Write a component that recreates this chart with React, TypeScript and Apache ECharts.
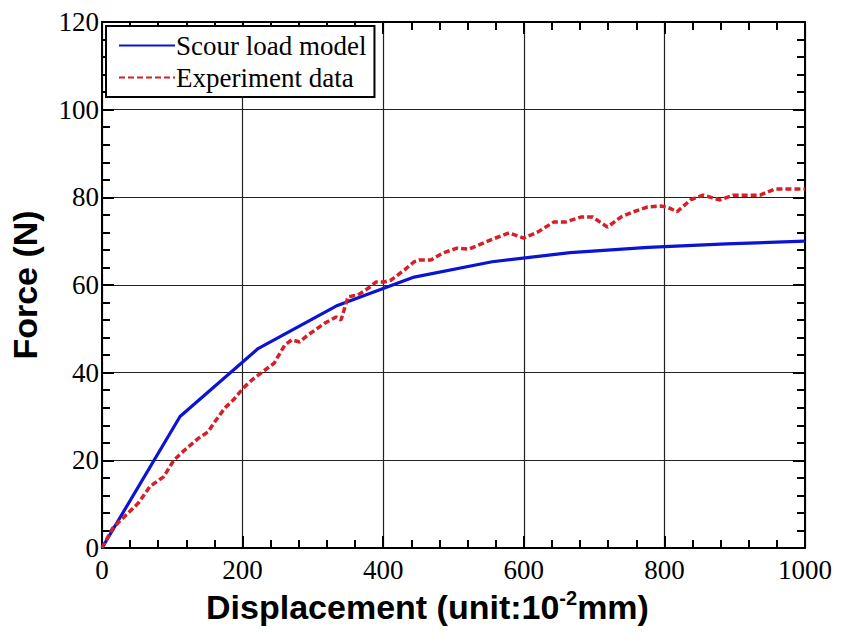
import React, { useEffect, useRef } from "react";
import * as echarts from "echarts";

const modelX = [0, 111, 222, 333, 444, 555, 666, 777, 888, 1000];
const modelY = [0, 30, 45.5, 55.2, 61.8, 65.3, 67.4, 68.6, 69.4, 70];

const expX = [0, 15, 31, 52, 68, 88, 102, 118, 137, 151, 160, 175, 187, 201, 213, 227, 245, 260, 270, 281, 293, 317, 333, 340, 350, 364, 379, 390, 401, 411, 430, 444, 451, 468, 485, 505, 522, 553, 579, 600, 620, 643, 660, 681, 698, 719, 738, 756, 776, 794, 804, 818, 837, 855, 879, 898, 936, 957, 1000];
const expY = [0, 4.5, 7, 10.3, 14, 16.3, 20, 22.4, 25, 26.5, 28.7, 32, 33.8, 36.5, 38.3, 40, 42.2, 46.3, 47.5, 47, 48.6, 51.3, 52.7, 52, 57.3, 57.7, 59.3, 60.7, 60.7, 61.1, 63.4, 65.3, 65.7, 65.7, 67.3, 68.4, 68.2, 70.3, 71.9, 70.7, 72.1, 74.4, 74.4, 75.5, 75.5, 73.2, 75.5, 76.7, 77.8, 78, 77.8, 76.7, 79.4, 80.5, 79.4, 80.5, 80.5, 81.9, 81.9];

const seriesNames = ["Scour load model", "Experiment data"];
const xTicks = [0, 200, 400, 600, 800, 1000];
const yTicks = [0, 20, 40, 60, 80, 100, 120];

const serif = "Liberation Serif";
const sans = "Liberation Sans";

export default function App() {
  const ref = useRef<HTMLDivElement>(null);
  useEffect(() => {
    const chart = echarts.init(ref.current!, null, { renderer: "svg" });
    const axisLineStyle = { color: "#000", width: 2 };
    const labelStyle = { fontFamily: serif, fontSize: 27, color: "#000", formatter: (v: number) => String(v) };
    const tick = { show: true, inside: true, length: 12, lineStyle: { color: "#000", width: 2 } };
    const minor = { show: true, splitNumber: 5, length: 8, lineStyle: { color: "#000", width: 2 } };
    chart.setOption({
      animation: false,
      backgroundColor: "#fff",
      grid: { left: 100, right: 36, top: 22, bottom: 92, containLabel: false },
      legend: {
        left: 106,
        top: 26,
        orient: "vertical",
        data: seriesNames,
        backgroundColor: "#fff",
        borderColor: "#000",
        borderWidth: 2,
        borderRadius: 0,
        padding: [6, 8, 6, 12],
        itemWidth: 56,
        itemHeight: 1,
        itemGap: 5,
        itemStyle: { borderWidth: 0, opacity: 0 },
        textStyle: { fontFamily: serif, fontSize: 27, color: "#000", padding: [0, 0, 0, -4] },
      },
      xAxis: [
        {
          type: "value",
          min: xTicks[0],
          max: xTicks[xTicks.length - 1],
          interval: 200,
          name: "{a|Displacement (unit:10}{s|-2}{a|mm)}",
          nameLocation: "middle",
          nameGap: 40,
          nameTextStyle: {
            padding: [0, 52, 0, 0],
            rich: {
              a: { fontFamily: sans, fontWeight: "bold", fontSize: 34, color: "#000" },
              s: { fontFamily: sans, fontWeight: "bold", fontSize: 20, color: "#000", padding: [0, 0, 18, 0] },
            },
          },
          axisLine: { show: true, onZero: false, lineStyle: axisLineStyle },
          axisTick: tick,
          minorTick: minor,
          splitLine: { show: true, lineStyle: { color: "#222", width: 1.2 } },
          axisLabel: { ...labelStyle, margin: 8 },
        },
        {
          type: "value",
          position: "top",
          min: xTicks[0],
          max: xTicks[xTicks.length - 1],
          interval: 200,
          axisLine: { show: true, onZero: false, lineStyle: axisLineStyle },
          axisTick: tick,
          minorTick: minor,
          splitLine: { show: false },
          axisLabel: { show: false },
        },
      ],
      yAxis: [
        {
          type: "value",
          min: yTicks[0],
          max: yTicks[yTicks.length - 1],
          interval: 20,
          name: "Force (N)",
          nameLocation: "middle",
          nameGap: 60,
          nameTextStyle: { fontFamily: sans, fontWeight: "bold", fontSize: 34, color: "#000" },
          axisLine: { show: true, onZero: false, lineStyle: axisLineStyle },
          axisTick: tick,
          minorTick: minor,
          splitLine: { show: true, lineStyle: { color: "#222", width: 1.2 } },
          axisLabel: { ...labelStyle, margin: 3 },
        },
        {
          type: "value",
          position: "right",
          min: yTicks[0],
          max: yTicks[yTicks.length - 1],
          interval: 20,
          axisLine: { show: true, onZero: false, lineStyle: axisLineStyle },
          axisTick: tick,
          minorTick: minor,
          splitLine: { show: false },
          axisLabel: { show: false },
        },
      ],
      series: [
        {
          name: seriesNames[0],
          type: "line",
          data: modelX.map((x, i) => [x, modelY[i]]),
          showSymbol: false,
          symbol: "none",
          color: "#0a14d2",
          lineStyle: { color: "#0a14d2", width: 3.2 },
          z: 3,
        },
        {
          name: seriesNames[1],
          type: "line",
          data: expX.map((x, i) => [x, expY[i]]),
          showSymbol: false,
          symbol: "none",
          color: "#d42026",
          lineStyle: { color: "#d42026", width: 3.5, type: [6, 3] },
          z: 4,
        },
      ],
    });
    return () => chart.dispose();
  }, []);
  return (
    <div
      ref={ref}
      style={{ position: "fixed", left: 0, top: 0, width: 841, height: 640, background: "#fff" }}
    />
  );
}
